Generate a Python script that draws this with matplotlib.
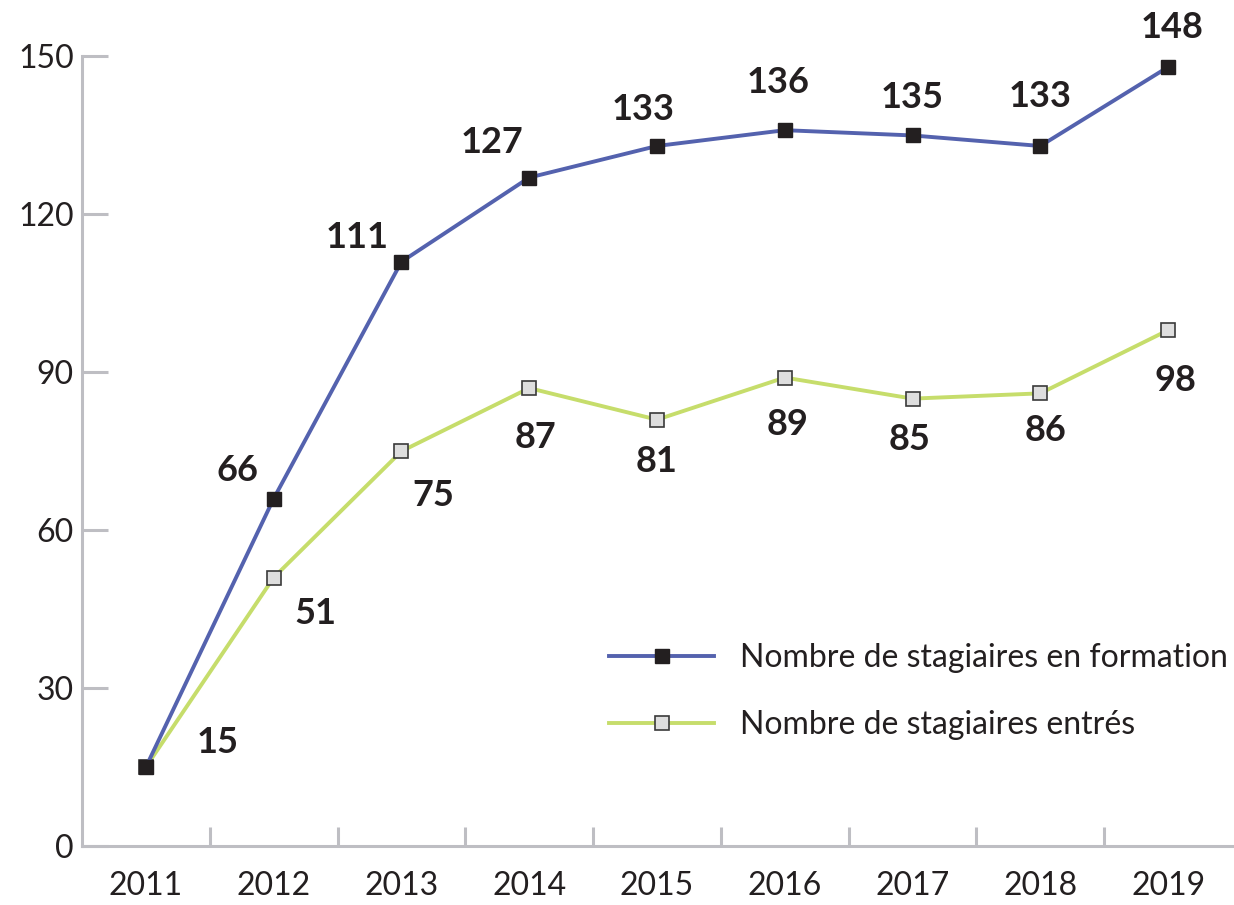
import matplotlib.pyplot as plt
import numpy as np

# data
years = ["2011", "2012", "2013", "2014", "2015", "2016", "2017", "2018", "2019"]
en_formation = [15, 66, 111, 127, 133, 136, 135, 133, 148]
entres = [15, 51, 75, 87, 81, 89, 85, 86, 98]

# label offsets in pixels (dx, dy) relative to each marker
off_formation = [(72, 25), (-36, 28), (-44, 24), (-37, 35), (-14, 36), (-7, 48), (0, 38), (0, 49), (4, 40)]
off_entres = [None, (42, -36), (32, -44), (6, -49), (0, -42), (3, -47), (-3, -41), (5, -37), (7, -50)]

blue = "#5462AE"
green = "#C6DD6B"
grey = "#BEBEC3"
txt = "#231F20"

plt.rcParams['font.family'] = ['Lato', 'DejaVu Sans']

fig = plt.figure(figsize=(12.34, 9.05), dpi=100)
ax = fig.add_axes([82 / 1234, 1 - 846 / 905, 1 - 82 / 1234 - 2 / 1234, (846 - 56.5) / 905])

x = np.arange(len(years))

ax.plot(x, entres, color=green, lw=2.8, marker='s', ms=9.5, mfc='#DEDEDE',
        mec='#3A3A3A', mew=1.2, label="Nombre de stagiaires entrés", zorder=3)
ax.plot(x, en_formation, color=blue, lw=2.8, marker='s', ms=9.5, mfc=txt,
        mec=txt, label="Nombre de stagiaires en formation", zorder=4)

for i, v in enumerate(en_formation):
    dx, dy = off_formation[i]
    ax.annotate(str(v), (x[i], v), xytext=(dx, dy), textcoords='offset pixels',
                ha='center', va='center', fontsize=26, fontweight='bold', color=txt,
                annotation_clip=False)
for i, v in enumerate(entres):
    if off_entres[i] is None:
        continue
    dx, dy = off_entres[i]
    ax.annotate(str(v), (x[i], v), xytext=(dx, dy), textcoords='offset pixels',
                ha='center', va='center', fontsize=26, fontweight='bold', color=txt,
                annotation_clip=False)

ax.set_xlim(-0.5, len(years) - 0.5)
ax.set_ylim(0, 150)
ax.set_yticks(np.arange(0, 151, 30))
ax.set_xticks(x)
ax.set_xticklabels(years)
ax.set_xticks(x[:-1] + 0.5, minor=True)

ax.tick_params(axis='x', which='major', length=0, pad=18, labelsize=23, labelcolor=txt)
ax.tick_params(axis='x', which='minor', direction='in', length=14, width=2.2, color=grey)
ax.tick_params(axis='y', direction='in', length=19, width=2.2, color=grey,
               pad=6, labelsize=23, labelcolor=txt)

for s in ['top', 'right']:
    ax.spines[s].set_visible(False)
for s in ['left', 'bottom']:
    ax.spines[s].set_color(grey)
    ax.spines[s].set_linewidth(2.2)

handles, labels = ax.get_legend_handles_labels()
leg = ax.legend(handles[::-1], labels[::-1], loc='upper left', bbox_to_anchor=(0.447, 0.273),
                frameon=False, fontsize=23, handlelength=3.3, handletextpad=0.8,
                labelspacing=1.15, borderaxespad=0)
for t in leg.get_texts():
    t.set_color(txt)

fig.savefig("out.png", dpi=100)
